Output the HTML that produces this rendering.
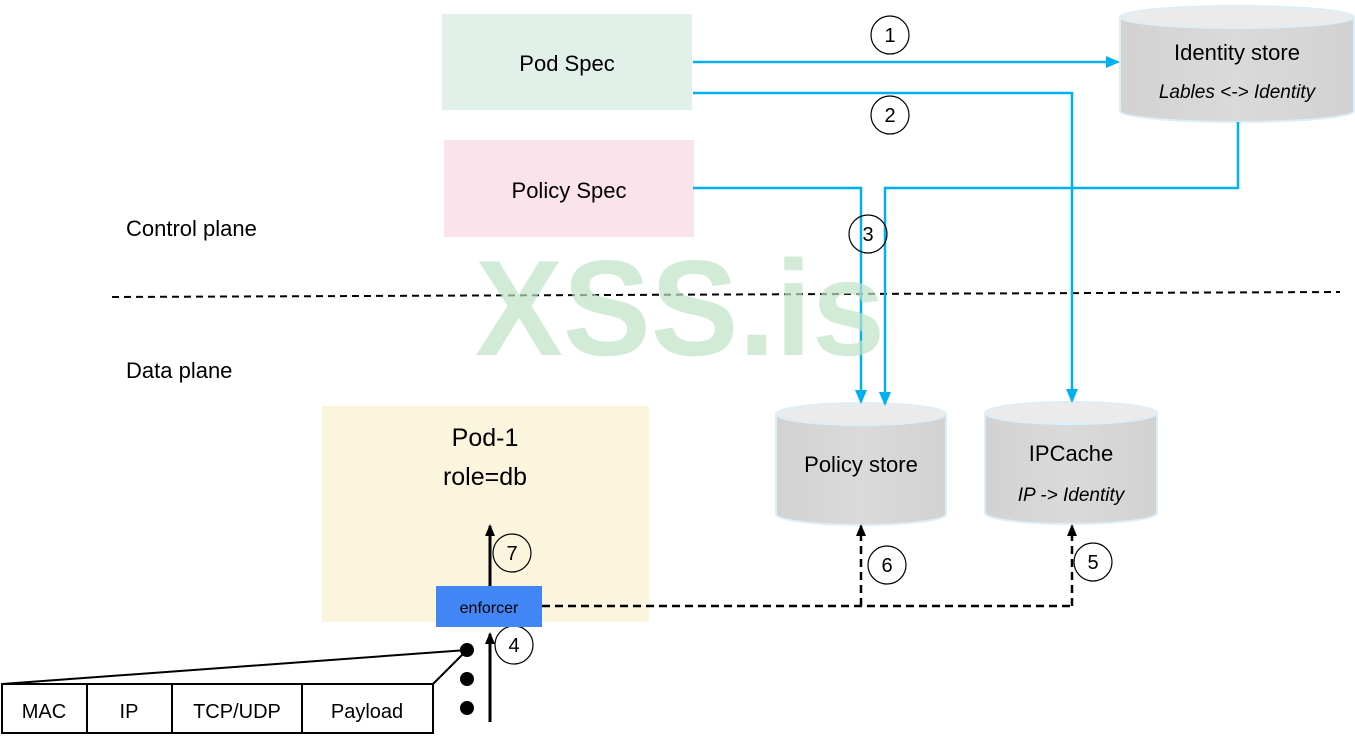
<!DOCTYPE html>
<html><head><meta charset="utf-8"><style>
html,body{margin:0;padding:0;background:#fff;}
svg{display:block;font-family:"Liberation Sans",Calibri,sans-serif;}
</style></head><body>
<svg width="1355" height="740" viewBox="0 0 1355 740" xmlns="http://www.w3.org/2000/svg">
<defs>
<marker id="ab" markerWidth="14" markerHeight="12" refX="12" refY="6" orient="auto" markerUnits="userSpaceOnUse"><path d="M0,0 L14,6 L0,12 z" fill="#00b0f0"/></marker>
<marker id="ak" markerWidth="12" markerHeight="10" refX="10" refY="5" orient="auto" markerUnits="userSpaceOnUse"><path d="M0,0 L12,5 L0,10 z" fill="#000"/></marker>
<linearGradient id="cg" x1="0" x2="1"><stop offset="0" stop-color="#d2d2d2"/><stop offset="0.5" stop-color="#dadada"/><stop offset="1" stop-color="#d2d2d2"/></linearGradient>
</defs>
<rect x="442" y="14" width="250" height="96" fill="#e2f0ea"/>
<text x="567" y="71" font-size="22" text-anchor="middle">Pod Spec</text>
<rect x="444" y="140" width="250" height="97" fill="#fae3ea"/>
<text x="569" y="198" font-size="22" text-anchor="middle">Policy Spec</text>
<text x="126" y="236" font-size="22">Control plane</text>
<text x="126" y="378" font-size="22">Data plane</text>
<line x1="112" y1="297" x2="1340" y2="292" stroke="#000" stroke-width="2" stroke-dasharray="7,5"/>
<rect x="322" y="406" width="327" height="216" fill="#fcf5de"/>
<text x="485" y="446" font-size="25" text-anchor="middle">Pod-1</text>
<text x="485" y="485" font-size="25" text-anchor="middle">role=db</text>
<g stroke="#dceef8" stroke-width="2">
<path d="M1120,17 V111 A117,11 0 0 0 1354,111 V17" fill="url(#cg)"/>
<ellipse cx="1237" cy="17" rx="117" ry="11" fill="#ebebeb"/>
<path d="M776,414 V514 A85,11 0 0 0 946,514 V414" fill="url(#cg)"/>
<ellipse cx="861" cy="414" rx="85" ry="11" fill="#ebebeb"/>
<path d="M985,413 V513 A86,11 0 0 0 1157,513 V413" fill="url(#cg)"/>
<ellipse cx="1071" cy="413" rx="86" ry="11" fill="#ebebeb"/>
</g>
<text x="1237" y="60" font-size="22" text-anchor="middle">Identity store</text>
<text x="1237" y="98" font-size="19" font-style="italic" text-anchor="middle">Lables &lt;-&gt; Identity</text>
<text x="861" y="472" font-size="22" text-anchor="middle">Policy store</text>
<text x="1071" y="461" font-size="22" text-anchor="middle">IPCache</text>
<text x="1071" y="501" font-size="19" font-style="italic" text-anchor="middle">IP -&gt; Identity</text>
<g stroke="#00b0f0" stroke-width="2.5" fill="none">
<path d="M693,62 H1118" marker-end="url(#ab)"/>
<path d="M693,93 H1072 V401" marker-end="url(#ab)"/>
<path d="M693,188 H861 V402" marker-end="url(#ab)"/>
<path d="M1238,122 V188 H885 V404" marker-end="url(#ab)"/>
</g>
<text x="475" y="355" font-size="136" font-weight="bold" fill="#bfe2c6" fill-opacity="0.7" textLength="410" lengthAdjust="spacingAndGlyphs">XSS.is</text>
<g fill="#fff" fill-opacity="0" stroke="#000" stroke-width="1.2">
<circle cx="890" cy="35" r="19"/><circle cx="890" cy="115" r="19"/><circle cx="868" cy="234" r="19"/>
<circle cx="887" cy="565" r="19"/><circle cx="1093" cy="562" r="19"/><circle cx="512" cy="553" r="19"/><circle cx="514" cy="645" r="19"/>
</g>
<g font-size="20" text-anchor="middle">
<text x="890" y="42">1</text><text x="890" y="122">2</text><text x="868" y="241">3</text>
<text x="887" y="572">6</text><text x="1093" y="569">5</text><text x="512" y="560">7</text><text x="514" y="652">4</text>
</g>
<g stroke="#000" stroke-width="2.5" fill="none" stroke-dasharray="8,5">
<path d="M542,606 H1072"/>
<path d="M861,606 V526" marker-end="url(#ak)"/>
<path d="M1072,606 V526" marker-end="url(#ak)"/>
</g>
<rect x="436" y="586" width="106" height="41" fill="#4285f4"/>
<text x="489" y="613" font-size="16" text-anchor="middle">enforcer</text>
<g stroke="#000" stroke-width="3" fill="none">
<path d="M490,586 V526" marker-end="url(#ak)"/>
<path d="M490,722 V634" marker-end="url(#ak)"/>
</g>
<circle cx="467" cy="650" r="7"/><circle cx="467" cy="679" r="7"/><circle cx="467" cy="708" r="7"/>
<g stroke="#000" stroke-width="2" fill="#fff">
<line x1="2" y1="684" x2="467" y2="650"/><line x1="433" y1="684" x2="467" y2="650"/>
<rect x="2" y="684" width="85" height="49"/><rect x="87" y="684" width="85" height="49"/>
<rect x="172" y="684" width="130" height="49"/><rect x="302" y="684" width="131" height="49"/>
</g>
<g font-size="20" text-anchor="middle">
<text x="44" y="718">MAC</text><text x="129" y="718">IP</text><text x="237" y="718">TCP/UDP</text><text x="367" y="718">Payload</text>
</g>
</svg>
</body></html>
